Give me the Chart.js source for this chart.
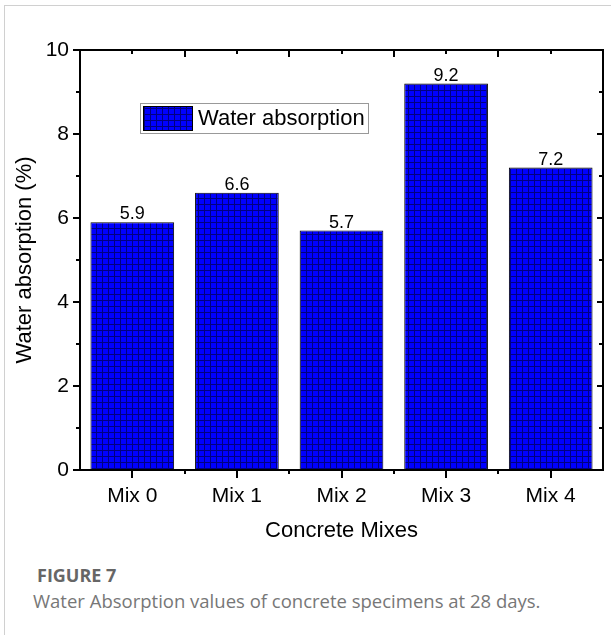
<!DOCTYPE html>
<html>
<head>
<meta charset="utf-8">
<script src="https://cdn.jsdelivr.net/npm/chart.js@4.4.0/dist/chart.umd.min.js"></script>
<style>
  body { margin: 0; background: #fff; }
  #page { position: relative; width: 611px; height: 635px; overflow: hidden; }
  #frame { position: absolute; left: 4px; top: 5px; right: 0; bottom: 0; border-left: 1px solid #d0d0d0; border-top: 1px solid #d0d0d0; }
  #wrap { position: absolute; left: 0; top: 0; width: 611px; height: 545px; }
  #caption { position: absolute; left: 33px; top: 562px; font-family: "Open Sans", sans-serif; font-size: 18.5px; line-height: 26px; color: #777; }
  #caption b { display: block; color: #666; margin-left: 4px; font-size: 18px; }
</style>
</head>
<body>
<div id="page">
  <div id="frame"></div>
  <div id="wrap"><canvas id="myChart"></canvas></div>
  <div id="caption"><b>FIGURE 7</b>Water Absorption values of concrete specimens at 28 days.</div>
</div>
<script>
// data
var mixes = ['Mix 0', 'Mix 1', 'Mix 2', 'Mix 3', 'Mix 4'];
var absorption = [5.9, 6.6, 5.7, 9.2, 7.2];
var yTicks = [0, 2, 4, 6, 8, 10];

var FONT = '"Liberation Sans", Arial, sans-serif';

// blue fill with a dark grid on top
function gridPattern() {
  var c = document.createElement('canvas');
  c.width = 6; c.height = 6;
  var g = c.getContext('2d');
  g.fillStyle = '#0000ff';
  g.fillRect(0, 0, 6, 6);
  g.fillStyle = '#000080';
  g.fillRect(0, 0, 6, 1);
  g.fillRect(0, 0, 1, 6);
  return g.createPattern(c, 'repeat');
}
var fill = gridPattern();

// frame, tick marks, value labels and legend like the Origin plot
var frame = {
  id: 'frame',
  afterDatasetsDraw: function(chart) {
    var ctx = chart.ctx, a = chart.chartArea;
    var x = chart.scales.x, y = chart.scales.y;
    ctx.save();
    ctx.strokeStyle = '#000';
    ctx.lineWidth = 2;
    ctx.strokeRect(a.left, a.top, a.right - a.left, a.bottom - a.top);
    ctx.beginPath();
    for (var v = 0; v <= 10; v++) {
      var py = Math.round(y.getPixelForValue(v));
      var big = v % 2 === 0;
      ctx.moveTo(a.left, py); ctx.lineTo(a.left - (big ? 7 : 4), py);
      ctx.moveTo(a.right, py); ctx.lineTo(a.right - (big ? 6 : 4), py);
    }
    for (var i = 0; i < mixes.length; i++) {
      var px = Math.round(x.getPixelForValue(i));
      ctx.moveTo(px, a.bottom); ctx.lineTo(px, a.bottom + 8);
      ctx.moveTo(px, a.top); ctx.lineTo(px, a.top + 4);
      if (i > 0) {
        var bx = Math.round((x.getPixelForValue(i) + x.getPixelForValue(i - 1)) / 2);
        ctx.moveTo(bx, a.bottom); ctx.lineTo(bx, a.bottom + 4);
        ctx.moveTo(bx, a.top); ctx.lineTo(bx, a.top + 7);
      }
    }
    ctx.stroke();

    // value labels
    ctx.fillStyle = '#000';
    ctx.font = '18px ' + FONT;
    ctx.textAlign = 'center';
    ctx.textBaseline = 'alphabetic';
    chart.getDatasetMeta(0).data.forEach(function(bar, k) {
      ctx.fillText(absorption[k].toFixed(1), bar.x, bar.y - 3);
    });

    // legend inside the plot
    ctx.fillStyle = '#fff';
    ctx.fillRect(140, 103, 228, 30);
    ctx.lineWidth = 1;
    ctx.strokeStyle = '#999';
    ctx.strokeRect(140.5, 103.5, 228, 30);
    ctx.fillStyle = fill;
    ctx.fillRect(143, 106, 49, 24);
    ctx.strokeStyle = '#000';
    ctx.strokeRect(143.5, 106.5, 49, 24);
    ctx.fillStyle = '#000';
    ctx.font = '22px ' + FONT;
    ctx.textAlign = 'left';
    ctx.textBaseline = 'middle';
    ctx.fillText(chart.data.datasets[0].label, 198, 119);
    ctx.restore();
  }
};

var ctx = document.getElementById('myChart').getContext('2d');
var myChart = new Chart(ctx, {
  type: 'bar',
  data: {
    labels: mixes,
    datasets: [{
      label: 'Water absorption',
      data: absorption,
      backgroundColor: fill,
      borderColor: '#000',
      borderWidth: 1,
      barPercentage: 0.8,
      categoryPercentage: 1
    }]
  },
  options: {
    responsive: true,
    maintainAspectRatio: false,
    animation: false,
    layout: { padding: { top: 50, right: 8, left: 0, bottom: 0 } },
    plugins: {
      legend: { display: false },
      tooltip: { enabled: false }
    },
    scales: {
      x: {
        grid: { display: false, drawTicks: false },
        border: { display: false },
        ticks: { color: '#000', padding: 14, font: { family: FONT, size: 21 } },
        title: { display: true, text: 'Concrete Mixes', color: '#000', padding: { top: 0, bottom: 1 }, font: { family: FONT, size: 22 } },
        afterFit: function(s) { s.height = 75; }
      },
      y: {
        min: 0,
        max: 10,
        grid: { display: false, drawTicks: false },
        border: { display: false },
        afterBuildTicks: function(s) { s.ticks = yTicks.map(function(v) { return { value: v }; }); },
        ticks: { color: '#000', padding: 11, font: { family: FONT, size: 21 } },
        title: { display: true, text: 'Water absorption (%)', color: '#000', padding: { top: 12, bottom: 0 }, font: { family: FONT, size: 22 } },
        afterFit: function(s) { s.width = 80; }
      }
    }
  },
  plugins: [frame]
});
</script>
</body>
</html>
